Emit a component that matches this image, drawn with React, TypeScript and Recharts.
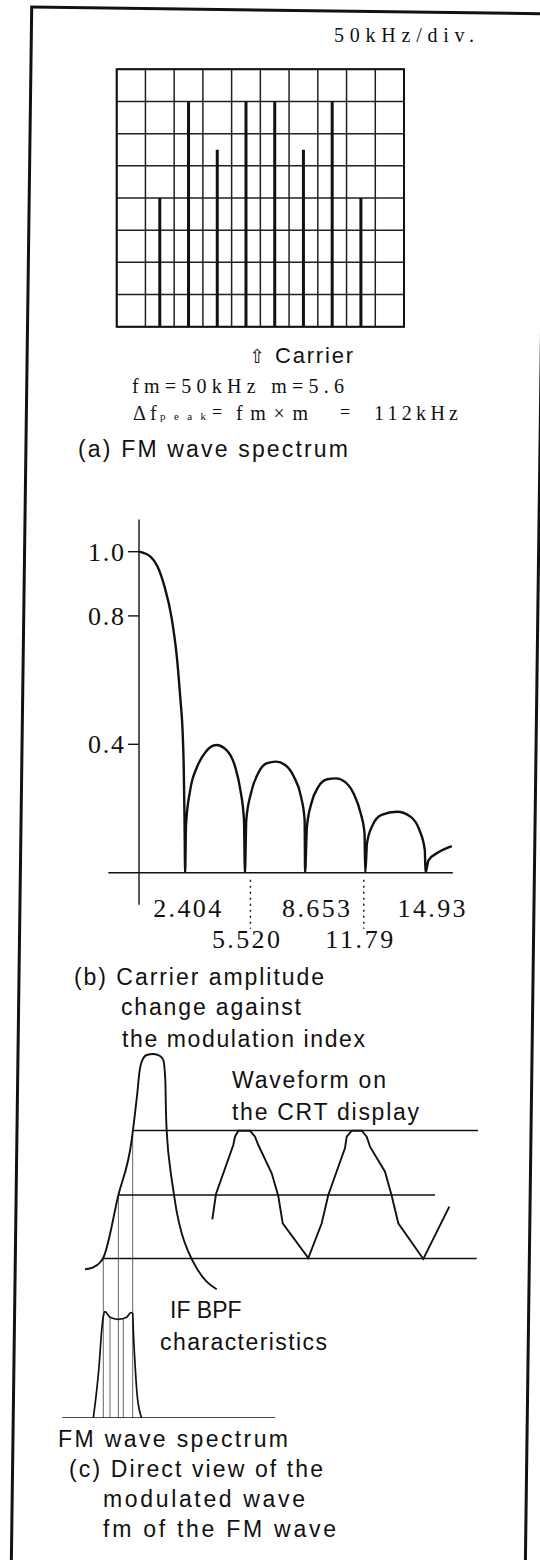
import React from "react";
import {
  ComposedChart,
  Line,
  XAxis,
  YAxis,
  CartesianGrid,
  ReferenceLine,
  ReferenceArea,
} from "recharts";

const ink = "#111";
const serif = '"Liberation Serif", "DejaVu Serif", serif';
const sans = '"Liberation Sans", Arial, sans-serif';

// (a) analyser screen: 10 x 8 divisions, one spectral line per column (in divisions)
const xDivs = [0, 1, 2, 3, 4, 5, 6, 7, 8, 9, 10];
const yDivs = [0, 1, 2, 3, 4, 5, 6, 7, 8];
const lineLevels = [null, 4, 7, 5.5, 7, 7, 5.5, 7, 4, null];

// (b) carrier amplitude |J0(m)|
const besselM = [
  0, 0.61, 0.97, 1.33, 1.69, 1.97, 2.16, 2.26, 2.33, 2.37, 2.404,
  2.45, 2.67, 3.03, 3.48, 4.02, 4.56, 5.01, 5.28, 5.47, 5.52,
  5.59, 5.83, 6.21, 6.67, 7.14, 7.6, 8.07, 8.44, 8.63, 8.653,
  8.75, 8.98, 9.35, 9.81, 10.27, 10.73, 11.18, 11.55, 11.75, 11.79,
  11.88, 12.18, 12.64, 13.44, 14.16, 14.61, 14.89, 14.93,
  15.08, 15.64, 16.3,
];
const besselAmp = [
  1.0, 0.984, 0.953, 0.891, 0.797, 0.673, 0.538, 0.455, 0.33, 0.174, 0,
  0.15, 0.258, 0.33, 0.377, 0.398, 0.382, 0.33, 0.258, 0.164, 0,
  0.164, 0.247, 0.31, 0.341, 0.346, 0.336, 0.299, 0.237, 0.164, 0,
  0.143, 0.216, 0.268, 0.291, 0.294, 0.283, 0.247, 0.185, 0.123, 0,
  0.092, 0.149, 0.18, 0.19, 0.174, 0.133, 0.071, 0,
  0.038, 0.065, 0.083,
];
const zeroValues = [2.404, 5.52, 8.653, 11.79, 14.93];
const zeroLabels = ["2.404", "5.520", "8.653", "11.79", "14.93"];
const yTickValues = [1.0, 0.8, 0.4];
const yTickLabels = ["1.0", "0.8", "0.4"];
const labelNudge = [2, 1, 11, -6, 6];

// (c) direct view: IF BPF curve, CRT levels, CRT waveform, FM spectrum
const bpfX = [2.5, 3.33, 4.0, 4.33, 5.84, 7.17, 7.5, 7.73, 7.93, 8.17, 8.67, 9.33, 10.0, 10.33, 10.53, 10.6, 10.73, 11.0, 11.33, 11.67, 12.17, 12.83, 13.67, 14.67, 15.67];
const bpfY = [14.87, 15.07, 15.55, 16.03, 22.3, 27.8, 30.47, 32.47, 34.47, 35.63, 36.3, 36.4, 36.2, 35.8, 33.8, 30.47, 27.8, 25.13, 22.8, 20.63, 18.47, 16.63, 14.97, 13.63, 12.87];
const levelStartX = [7.33, 5.84, 4.33];
const levelEndX = [41.8, 37.5, 41.67];
const levelY = [28.75, 22.3, 15.95];
const waveX = [15.23, 15.6, 17.33, 17.5, 17.83, 19.0, 19.5, 19.83, 21.17, 21.83, 22.27, 24.83, 26.17, 26.83, 28.5, 28.67, 29.17, 30.17, 30.67, 31.0, 32.5, 33.17, 33.83, 36.33, 38.93];
const waveY = [19.87, 22.4, 27.3, 28.13, 28.73, 28.73, 28.13, 27.3, 24.47, 22.2, 19.47, 16.0, 19.47, 22.3, 27.0, 28.13, 28.73, 28.73, 28.13, 27.13, 24.63, 22.23, 19.47, 15.9, 21.13];
const spectrumX = [3.33, 3.6, 3.93, 4.17, 4.33, 4.5, 5.0, 5.83, 6.67, 7.07, 7.27, 7.33, 7.5, 7.73, 8.17];
const spectrumY = [0, 2.13, 5.47, 8.8, 10.13, 10.63, 10.07, 9.87, 10.07, 10.53, 10.47, 8.8, 5.47, 2.13, 0];
const dropX = [4.33, 5.0, 5.84, 6.33, 7.27];
const dropTop = [16.03, 10.07, 22.3, 9.95, 28.8];
const baseX = [0.2, 21.5];

const zip = (xs: number[], ys: number[]) => xs.map((x, i) => ({ x, y: ys[i] }));

const spikeData = lineLevels.flatMap((v, i) =>
  v == null
    ? []
    : [
        { x: i + 0.5, y: 0 },
        { x: i + 0.5, y: v },
        { x: i + 0.5, y: null },
      ]
);
const besselData = besselM.map((m, i) => ({ m, amp: besselAmp[i] }));
const bpfData = zip(bpfX, bpfY);
const waveData = zip(waveX, waveY);
const spectrumData = zip(spectrumX, spectrumY);
const levelData = levelY.flatMap((y, i) => [
  { x: levelStartX[i], y },
  { x: levelEndX[i], y },
  { x: levelEndX[i], y: null },
]);
const dropData = dropX.flatMap((x, i) => [
  { x, y: dropTop[i] },
  { x, y: 0 },
  { x, y: null },
]);
const baseData = baseX.map((x) => ({ x, y: 0 }));

const SpectrumScreen = () => (
  <ComposedChart
    width={540}
    height={400}
    data={spikeData}
    margin={{ top: 69.3, left: 116.7, right: 136, bottom: 73.3 }}
  >
    <XAxis dataKey="x" type="number" domain={[0, 10]} ticks={xDivs} hide />
    <YAxis type="number" domain={[0, 8]} ticks={yDivs} hide />
    <CartesianGrid stroke="#222" strokeWidth={1.5} />
    <ReferenceArea x1={0} x2={10} y1={0} y2={8} fill="none" stroke={ink} strokeWidth={2} />
    <Line
      dataKey="y"
      type="linear"
      stroke={ink}
      strokeWidth={3}
      dot={false}
      connectNulls={false}
      isAnimationActive={false}
    />
  </ComposedChart>
);

const yTickLabel = (label: string) => (props: any) => {
  const vb = props.viewBox || {};
  return (
    <text
      x={vb.x - 4}
      y={vb.y + 9}
      textAnchor="end"
      fontFamily={serif}
      fontSize={26}
      fill={ink}
      textLength={36}
      lengthAdjust="spacing"
    >
      {label}
    </text>
  );
};

const ZeroTick = (props: any) => {
  const { x, y, payload } = props;
  const i = zeroValues.indexOf(payload.value);
  if (i < 0) return null;
  const lower = i % 2 === 1;
  const cx = x + labelNudge[i];
  return (
    <g>
      {lower && (
        <line
          x1={cx + 4.5}
          x2={cx + 4.5}
          y1={y + 7}
          y2={y + 56}
          stroke={ink}
          strokeWidth={1.4}
          strokeDasharray="2 4"
        />
      )}
      <text
        x={cx}
        y={y + (lower ? 75 : 44)}
        textAnchor="middle"
        fontFamily={serif}
        fontSize={26}
        fill={ink}
        textLength={68}
        lengthAdjust="spacing"
      >
        {zeroLabels[i]}
      </text>
    </g>
  );
};

const CarrierChart = () => (
  <ComposedChart
    width={540}
    height={480}
    data={besselData}
    margin={{ top: 39.6, left: 108.3, right: 87.2, bottom: 27.3 }}
  >
    <XAxis
      dataKey="m"
      type="number"
      domain={[-1.6, 16.35]}
      allowDataOverflow
      ticks={zeroValues}
      interval={0}
      tickLine={false}
      tickSize={0}
      tickMargin={0}
      height={60}
      axisLine={{ stroke: ink, strokeWidth: 1.6 }}
      tick={<ZeroTick />}
    />
    <YAxis type="number" domain={[0, 1.1]} allowDataOverflow hide />
    <ReferenceLine
      segment={[
        { x: 0, y: -0.1 },
        { x: 0, y: 1.1 },
      ]}
      ifOverflow="visible"
      stroke={ink}
      strokeWidth={1.4}
    />
    {yTickValues.map((v, i) => (
      <ReferenceLine
        key={v}
        segment={[
          { x: -0.57, y: v },
          { x: 0, y: v },
        ]}
        ifOverflow="visible"
        stroke={ink}
        strokeWidth={1.4}
        label={yTickLabel(yTickLabels[i])}
      />
    ))}
    <Line
      dataKey="amp"
      type="monotone"
      stroke={ink}
      strokeWidth={2.4}
      dot={false}
      isAnimationActive={false}
    />
  </ComposedChart>
);

const DirectView = () => (
  <ComposedChart width={540} height={460} margin={{ top: 38, left: 60, right: 60, bottom: 42 }}>
    <XAxis dataKey="x" type="number" domain={[0, 42]} allowDataOverflow hide />
    <YAxis type="number" domain={[0, 38]} allowDataOverflow hide />
    <Line data={dropData} dataKey="y" type="linear" stroke="#555" strokeWidth={0.9} dot={false} connectNulls={false} isAnimationActive={false} />
    <Line data={levelData} dataKey="y" type="linear" stroke={ink} strokeWidth={1.5} dot={false} connectNulls={false} isAnimationActive={false} />
    <Line data={bpfData} dataKey="y" type="monotone" stroke={ink} strokeWidth={1.9} dot={false} isAnimationActive={false} />
    <Line data={waveData} dataKey="y" type="linear" stroke={ink} strokeWidth={1.9} dot={false} isAnimationActive={false} />
    <Line data={spectrumData} dataKey="y" type="monotone" stroke={ink} strokeWidth={1.7} dot={false} isAnimationActive={false} />
    <Line data={baseData} dataKey="y" type="linear" stroke={ink} strokeWidth={1.5} dot={false} isAnimationActive={false} />
  </ComposedChart>
);

type Cap = { t: string; x: number; y: number; size: number; w?: number; font: string };

const captions: Cap[] = [
  { t: "50kHz/div.", x: 334, y: 42, size: 20, w: 140, font: serif },
  { t: "fm=50kHz   m=5.6", x: 132, y: 393, size: 20, w: 212, font: serif },
  { t: "\u0394", x: 133, y: 420, size: 20, font: serif },
  { t: "f", x: 150, y: 420, size: 20, font: serif },
  { t: "peak", x: 160, y: 420, size: 11, w: 46, font: serif },
  { t: "=", x: 212, y: 418, size: 18, font: serif },
  { t: "fm\u00d7m", x: 236, y: 420, size: 20, w: 72, font: serif },
  { t: "=", x: 340, y: 418, size: 18, font: serif },
  { t: "112kHz", x: 374, y: 420, size: 20, w: 84, font: serif },
  { t: "\u21e7", x: 249, y: 363, size: 19, font: '"DejaVu Sans", sans-serif' },
  { t: "Carrier", x: 275, y: 363, size: 22, w: 78, font: sans },
  { t: "(a)  FM wave spectrum", x: 78, y: 457, size: 23, w: 270, font: sans },
  { t: "(b)  Carrier amplitude", x: 74, y: 985, size: 23, w: 250, font: sans },
  { t: "change against", x: 121, y: 1015, size: 23, w: 180, font: sans },
  { t: "the modulation index", x: 122, y: 1047, size: 23, w: 243, font: sans },
  { t: "Waveform on", x: 232, y: 1088, size: 23, w: 154, font: sans },
  { t: "the CRT display", x: 232, y: 1120, size: 23, w: 187, font: sans },
  { t: "IF BPF", x: 170, y: 1318, size: 23, font: sans },
  { t: "characteristics", x: 160, y: 1350, size: 23, w: 167, font: sans },
  { t: "FM wave  spectrum", x: 58, y: 1447, size: 23, w: 230, font: sans },
  { t: "(c)  Direct view of the", x: 69, y: 1477, size: 23, w: 254, font: sans },
  { t: "modulated wave", x: 103, y: 1507, size: 23, w: 202, font: sans },
  { t: "fm of the FM wave", x: 103, y: 1537, size: 23, w: 233, font: sans },
];

const Overlay = () => (
  <svg
    width={540}
    height={1560}
    style={{ position: "absolute", left: 0, top: 0, pointerEvents: "none" }}
  >
    <rect
      x={31.7}
      y={7}
      width={514}
      height={1600}
      fill="none"
      stroke={ink}
      strokeWidth={3}
      transform="rotate(0.75 31.7 7)"
    />
    {captions.map((c, i) => (
      <text
        key={i}
        x={c.x}
        y={c.y}
        fontFamily={c.font}
        fontSize={c.size}
        fill={ink}
        textLength={c.w}
        lengthAdjust={c.w ? "spacing" : undefined}
      >
        {c.t}
      </text>
    ))}
  </svg>
);

export default function App() {
  return (
    <div
      style={{
        position: "fixed",
        left: 0,
        top: 0,
        width: 540,
        height: 1560,
        overflow: "hidden",
        background: "#fff",
      }}
    >
      <div style={{ position: "absolute", left: 0, top: 0 }}>
        <SpectrumScreen />
      </div>
      <div style={{ position: "absolute", left: 0, top: 480 }}>
        <CarrierChart />
      </div>
      <div style={{ position: "absolute", left: 0, top: 1000 }}>
        <DirectView />
      </div>
      <Overlay />
    </div>
  );
}
